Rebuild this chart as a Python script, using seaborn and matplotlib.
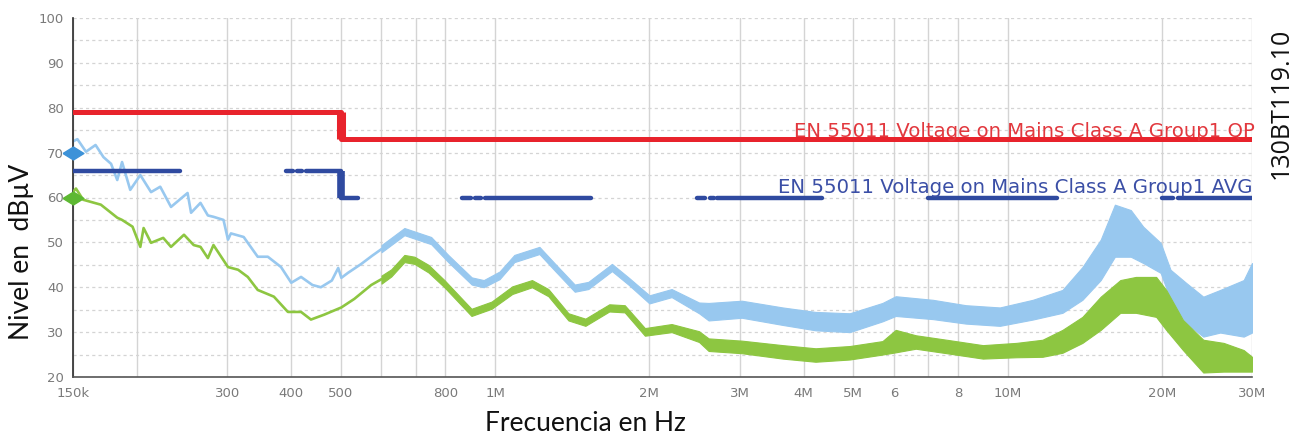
import numpy as np
import matplotlib
matplotlib.use("Agg")
import matplotlib.pyplot as plt
from matplotlib.ticker import FixedLocator, NullLocator
import seaborn as sns

# ---- measurement data (frequency in MHz, level in dBµV) ----
# peak detector, low-frequency part drawn as a single trace
peak_freq = [0.150, 0.153, 0.159, 0.166, 0.172, 0.178, 0.183, 0.187, 0.194, 0.203,
             0.213, 0.222, 0.233, 0.245, 0.251, 0.255, 0.266, 0.275, 0.282, 0.295,
             0.301, 0.305, 0.323, 0.344, 0.360, 0.382, 0.400, 0.418, 0.440, 0.457,
             0.480, 0.494, 0.501, 0.516, 0.548, 0.575, 0.600]
peak_level = [72.5, 73.0, 70.2, 71.7, 69.0, 67.5, 63.9, 67.9, 61.7, 65.0,
              61.2, 62.4, 57.9, 60.0, 61.0, 56.6, 58.8, 56.0, 55.7, 55.0,
              50.6, 52.0, 51.2, 46.8, 46.8, 44.5, 41.0, 42.3, 40.5, 40.0,
              41.5, 44.3, 42.1, 43.2, 45.2, 47.0, 48.5]
# peak detector, dense part drawn as the envelope of the trace
peak_band_freq = [0.600, 0.665, 0.750, 0.810, 0.900, 0.950, 1.02, 1.09, 1.22, 1.31,
                  1.43, 1.52, 1.69, 1.82, 2.00, 2.21, 2.50, 2.61, 3.03, 3.64,
                  4.22, 4.92, 5.70, 6.05, 7.15, 8.29, 9.66, 11.2, 12.8, 14.0,
                  15.2, 16.2, 17.4, 18.4, 19.9, 20.8, 22.3, 24.1, 26.0, 28.9, 30.0]
peak_band_hi = [49.4, 53.2, 51.2, 47.2, 42.2, 41.6, 43.5, 47.2, 49.0, 45.2,
                40.6, 41.2, 45.2, 42.2, 38.2, 39.6, 36.6, 36.5, 37.0, 35.5,
                34.5, 34.2, 36.5, 38.0, 37.2, 36.0, 35.5, 37.2, 39.4, 44.5,
                50.6, 58.4, 57.2, 53.5, 49.9, 43.9, 41.0, 37.9, 39.4, 41.6, 45.4]
peak_band_lo = [47.8, 51.6, 49.6, 45.6, 40.6, 40.0, 41.8, 45.6, 47.4, 43.6,
                39.0, 39.6, 43.6, 40.6, 36.4, 37.8, 34.2, 32.6, 33.2, 31.6,
                30.4, 30.0, 32.4, 33.6, 32.9, 31.9, 31.4, 32.8, 34.3, 37.2,
                41.6, 46.8, 46.8, 45.4, 43.2, 37.2, 32.0, 29.0, 29.9, 29.0, 29.9]

# average detector, low-frequency part
avg_freq = [0.150, 0.152, 0.157, 0.170, 0.183, 0.187, 0.196, 0.203, 0.206, 0.213,
            0.225, 0.233, 0.247, 0.258, 0.266, 0.275, 0.282, 0.301, 0.315, 0.329,
            0.344, 0.370, 0.394, 0.418, 0.437, 0.464, 0.501, 0.531, 0.573, 0.600]
avg_level = [61.2, 62.0, 59.5, 58.4, 55.5, 55.0, 53.5, 49.0, 53.2, 49.9,
             51.0, 49.0, 51.7, 49.4, 49.0, 46.5, 49.4, 44.5, 43.9, 42.3,
             39.4, 37.9, 34.5, 34.5, 32.8, 33.9, 35.5, 37.4, 40.5, 41.8]
# average detector, dense part
avg_band_freq = [0.600, 0.627, 0.665, 0.696, 0.741, 0.796, 0.899, 0.984, 1.08, 1.18,
                 1.27, 1.39, 1.50, 1.67, 1.79, 1.96, 2.21, 2.50, 2.61, 3.03,
                 3.64, 4.22, 4.92, 5.70, 6.05, 6.62, 7.71, 8.95, 10.4, 11.7,
                 12.8, 14.0, 15.2, 16.6, 17.8, 19.5, 20.4, 22.0, 24.1, 26.4, 28.9, 30.0]
avg_band_hi = [42.6, 44.0, 47.2, 46.8, 45.0, 41.6, 35.2, 36.8, 40.2, 41.6,
               39.6, 34.2, 33.0, 36.2, 36.0, 30.9, 31.8, 30.2, 28.6, 28.1,
               27.1, 26.4, 26.9, 28.0, 30.5, 29.3, 28.2, 27.1, 27.6, 28.3,
               30.5, 33.4, 37.9, 41.6, 42.3, 42.3, 39.4, 32.7, 28.3, 27.6, 26.0, 24.5]
avg_band_lo = [40.8, 42.4, 45.6, 45.2, 43.3, 40.0, 33.6, 35.2, 38.5, 40.0,
               38.0, 32.6, 31.4, 34.6, 34.4, 29.2, 30.0, 27.8, 25.8, 25.3,
               24.1, 23.4, 23.9, 25.0, 25.5, 26.3, 25.2, 24.1, 24.4, 24.5,
               25.4, 27.6, 30.5, 34.3, 34.3, 33.4, 30.5, 26.0, 21.0, 21.2, 21.2, 21.2]

# EN 55011 Class A Group 1 limits
qp_limit_freq = [0.15, 0.5, 0.5, 30.0]
qp_limit_level = [79, 79, 73, 73]
avg_limit_freq = [0.15, 0.5, 0.5, 30.0]
avg_limit_level = [66, 66, 60, 60]
# stretches of the AVG limit line that are drawn
avg_limit_pieces = [(0.150, 0.243), (0.391, 0.403), (0.411, 0.420), (0.428, 0.500),
                    (0.500, 0.540), (0.860, 0.899), (0.915, 0.940), (0.954, 1.54),
                    (2.48, 2.57), (2.63, 2.67), (2.71, 4.35), (7.0, 12.5),
                    (20.0, 21.0), (21.5, 30.0)]

x_ticks = [0.15, 0.2, 0.3, 0.4, 0.5, 0.6, 0.7, 0.8, 1, 2, 3, 4, 5, 6, 7, 8, 10, 20, 30]
x_tick_labels = ["150k", "", "300", "400", "500", "", "", "800", "1M", "2M", "3M",
                 "4M", "5M", "6", "", "8", "10M", "20M", "30M"]
y_ticks = list(range(20, 101, 5))
y_tick_labels = [str(v) if v % 10 == 0 else "" for v in y_ticks]

qp_text = "EN 55011 Voltage on Mains Class A Group1 QP"
avg_text = "EN 55011 Voltage on Mains Class A Group1 AVG"

# ---- colours ----
c_peak = "#98c8ef"
c_avg = "#8dc641"
c_qp = "#e8232c"
c_avglim = "#2f4aa0"

sns.set_style("white")
W, H = 1293, 437
fig = plt.figure(figsize=(W / 100, H / 100), dpi=100)
ax = fig.add_axes([73 / W, 1 - 377 / H, (1252 - 73) / W, (377 - 18) / H])
ax.set_xscale("log")
ax.set_xlim(0.15, 30)
ax.set_ylim(20, 100)

# grid
for xt in x_ticks:
    ax.axvline(xt, color="#d4d4d4", lw=1.0, zorder=0)
for yt in y_ticks:
    ax.axhline(yt, color="#d4d4d4", lw=0.9, ls=(0, (2.5, 2.5)), zorder=0)

# measured traces
ax.fill_between(peak_band_freq, peak_band_lo, peak_band_hi, color=c_peak, lw=0.8,
                edgecolor=c_peak, zorder=2)
sns.lineplot(x=peak_freq, y=peak_level, ax=ax, color=c_peak, lw=1.9,
             estimator=None, sort=False, zorder=2)
ax.fill_between(avg_band_freq, avg_band_lo, avg_band_hi, color=c_avg, lw=0.8,
                edgecolor=c_avg, zorder=3)
sns.lineplot(x=avg_freq, y=avg_level, ax=ax, color=c_avg, lw=1.9,
             estimator=None, sort=False, zorder=3)

# limit lines
sns.lineplot(x=qp_limit_freq, y=qp_limit_level, ax=ax, color=c_qp, lw=3.6,
             estimator=None, sort=False, zorder=5)
ax.vlines(qp_limit_freq[1], qp_limit_level[2], qp_limit_level[1], color=c_qp,
          lw=6.5, zorder=5)
for f0, f1 in avg_limit_pieces:
    lev = avg_limit_level[0] if f1 <= avg_limit_freq[1] else avg_limit_level[-1]
    sns.lineplot(x=[f0, f1], y=[lev, lev], ax=ax, color=c_avglim, lw=3.2,
                 estimator=None, sort=False, zorder=5)
ax.vlines(avg_limit_freq[1], avg_limit_level[2], avg_limit_level[1], color=c_avglim,
          lw=5.5, zorder=5)

# limit captions
ax.annotate(qp_text, xy=(30, qp_limit_level[-1]), xytext=(2, 1.5),
            textcoords="offset points", ha="right", va="baseline",
            color="#e2383e", fontsize=14.2, zorder=6)
ax.annotate(avg_text, xy=(30, avg_limit_level[-1]), xytext=(0, 3),
            textcoords="offset points", ha="right", va="baseline",
            color="#3b4fa6", fontsize=14.2, zorder=6)

# detector markers at the start of the sweep
diamond = [(-1, 0), (0, 0.62), (1, 0), (0, -0.62), (-1, 0)]
ax.plot([peak_freq[0]], [70], marker=diamond, ms=15, color="#3d92d8",
        clip_on=False, zorder=7)
ax.plot([avg_freq[0]], [60], marker=diamond, ms=15, color="#5db832",
        clip_on=False, zorder=7)

# axes styling
ax.xaxis.set_major_locator(FixedLocator(x_ticks))
ax.xaxis.set_minor_locator(NullLocator())
ax.set_xticklabels(x_tick_labels)
ax.set_yticks(y_ticks)
ax.set_yticklabels(y_tick_labels)
ax.tick_params(axis="both", direction="inout", length=9, width=1.0, color="#333333",
               labelcolor="#7a7a7a", labelsize=9.5, pad=2)
ax.tick_params(axis="x", pad=3)
for side in ("top", "right"):
    ax.spines[side].set_visible(False)
ax.spines["left"].set_color("#2a2a2a")
ax.spines["left"].set_linewidth(1.2)
ax.spines["bottom"].set_color("#555555")
ax.spines["bottom"].set_linewidth(1.2)
ax.set_xlabel("")
ax.set_ylabel("")

label_font = ["Lato", "DejaVu Sans"]
fig.text(585 / W, 1 - 431 / H, "Frecuencia en Hz", ha="center", va="baseline",
         fontsize=19, family=label_font, color="#111111")
fig.text(22 / W, 1 - 252 / H, "Nivel en  dBµV", ha="center", va="center",
         rotation=90, fontsize=19, family=label_font, color="#111111")
fig.text(1281 / W, 1 - 103 / H, "130BT119.10", ha="center", va="center",
         rotation=90, fontsize=18, family=["Open Sans", "DejaVu Sans"],
         color="#111111")

fig.savefig("out.png", dpi=100)
